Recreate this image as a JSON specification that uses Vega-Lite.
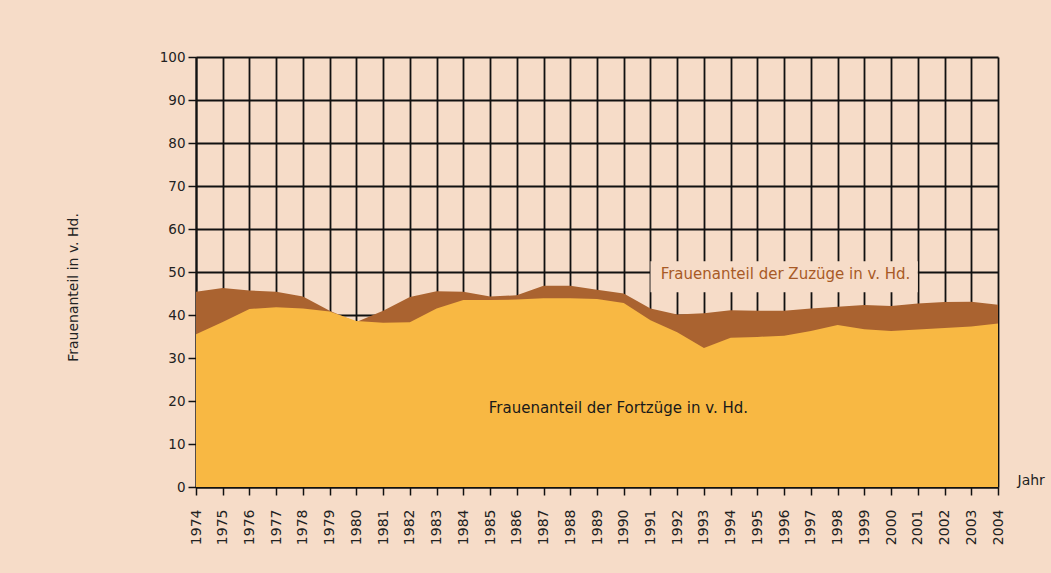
{
  "$schema": "https://vega.github.io/schema/vega-lite/v6.json",
  "width": 802,
  "height": 430,
  "autosize": {"type": "none"},
  "padding": {"left": 196, "top": 57, "right": 53, "bottom": 86},
  "background": "#f6dcc8",
  "config": {
    "view": {"stroke": null},
    "font": "DejaVu Sans",
    "axisX": {
      "format": "d",
      "labelAngle": -90,
      "labelAlign": "right",
      "labelBaseline": "middle",
      "labelFontSize": 14,
      "labelColor": "#222222",
      "labelPadding": 14,
      "labelOverlap": false,
      "labelFlush": false,
      "tickSize": 8,
      "tickColor": "#111111",
      "tickWidth": 1.5,
      "domainColor": "#111111",
      "domainWidth": 2,
      "grid": true,
      "gridColor": "#111111",
      "gridWidth": 1.8,
      "gridOpacity": 1,
      "titleX": 821,
      "titleY": -7,
      "titleAlign": "left",
      "titleBaseline": "middle",
      "titleFontWeight": "normal",
      "titleFontSize": 14,
      "titleColor": "#222222"
    },
    "axisY": {
      "labelFontSize": 13.5,
      "labelColor": "#222222",
      "labelPadding": 3,
      "labelFlush": false,
      "tickSize": 8,
      "tickColor": "#111111",
      "tickWidth": 1.5,
      "domainColor": "#111111",
      "domainWidth": 2,
      "grid": true,
      "gridColor": "#111111",
      "gridWidth": 1.8,
      "gridOpacity": 1,
      "titleX": -123,
      "titleY": 230,
      "titleAngle": -90,
      "titleAlign": "center",
      "titleBaseline": "middle",
      "titleFontWeight": "normal",
      "titleFontSize": 14,
      "titleColor": "#222222"
    }
  },
  "datasets": {
    "anteile": [
      {"year": 1974, "fortzuege": 35.5, "zuzuege": 45.4},
      {"year": 1975, "fortzuege": 38.4, "zuzuege": 46.3},
      {"year": 1976, "fortzuege": 41.4, "zuzuege": 45.7},
      {"year": 1977, "fortzuege": 41.8, "zuzuege": 45.4},
      {"year": 1978, "fortzuege": 41.5, "zuzuege": 44.3},
      {"year": 1979, "fortzuege": 40.8, "zuzuege": 41.0},
      {"year": 1980, "fortzuege": 38.6, "zuzuege": 38.4},
      {"year": 1981, "fortzuege": 38.2, "zuzuege": 41.0},
      {"year": 1982, "fortzuege": 38.3, "zuzuege": 44.2},
      {"year": 1983, "fortzuege": 41.5, "zuzuege": 45.5},
      {"year": 1984, "fortzuege": 43.5, "zuzuege": 45.4},
      {"year": 1985, "fortzuege": 43.5, "zuzuege": 44.3},
      {"year": 1986, "fortzuege": 43.6, "zuzuege": 44.6},
      {"year": 1987, "fortzuege": 43.9, "zuzuege": 46.8},
      {"year": 1988, "fortzuege": 43.9, "zuzuege": 46.8},
      {"year": 1989, "fortzuege": 43.7, "zuzuege": 45.9},
      {"year": 1990, "fortzuege": 42.8, "zuzuege": 45.0},
      {"year": 1991, "fortzuege": 38.8, "zuzuege": 41.5},
      {"year": 1992, "fortzuege": 36.0, "zuzuege": 40.1},
      {"year": 1993, "fortzuege": 32.3, "zuzuege": 40.4},
      {"year": 1994, "fortzuege": 34.7, "zuzuege": 41.1},
      {"year": 1995, "fortzuege": 34.9, "zuzuege": 41.0},
      {"year": 1996, "fortzuege": 35.2, "zuzuege": 41.0},
      {"year": 1997, "fortzuege": 36.3, "zuzuege": 41.5},
      {"year": 1998, "fortzuege": 37.7, "zuzuege": 41.9},
      {"year": 1999, "fortzuege": 36.7, "zuzuege": 42.3},
      {"year": 2000, "fortzuege": 36.3, "zuzuege": 42.1},
      {"year": 2001, "fortzuege": 36.6, "zuzuege": 42.7},
      {"year": 2002, "fortzuege": 37.0, "zuzuege": 43.0},
      {"year": 2003, "fortzuege": 37.3, "zuzuege": 43.1},
      {"year": 2004, "fortzuege": 38.0, "zuzuege": 42.4}
    ],
    "labels": [
      {"year": 1989.8, "value": 18.4, "text": "Frauenanteil der Fortzüge in v. Hd.", "series": "fort"},
      {"year": 1996.05, "value": 49.5, "text": "Frauenanteil der Zuzüge in v. Hd.", "series": "zu"}
    ],
    "labelbox": [
      {"year": 1991.0, "year2": 2001.0, "value": 45.3, "value2": 52.5}
    ]
  },
  "encoding": {
    "x": {
      "field": "year",
      "type": "quantitative",
      "scale": {"domain": [1974, 2004], "nice": false, "zero": false},
      "axis": {
        "values": [1974,1975,1976,1977,1978,1979,1980,1981,1982,1983,1984,1985,1986,1987,1988,1989,1990,1991,1992,1993,1994,1995,1996,1997,1998,1999,2000,2001,2002,2003,2004]
      },
      "title": "Jahr"
    }
  },
  "layer": [
    {
      "data": {"name": "anteile"},
      "mark": {"type": "area", "color": "#aa6330", "opacity": 1},
      "encoding": {
        "y": {
          "field": "zuzuege",
          "type": "quantitative",
          "scale": {"domain": [0, 100], "nice": false},
          "axis": {"values": [0,10,20,30,40,50,60,70,80,90,100]},
          "title": "Frauenanteil in v. Hd."
        }
      }
    },
    {
      "data": {"name": "anteile"},
      "mark": {"type": "area", "color": "#f8b843", "opacity": 1},
      "encoding": {
        "y": {"field": "fortzuege", "type": "quantitative", "title": "Frauenanteil in v. Hd."}
      }
    },
    {
      "data": {"name": "labelbox"},
      "mark": {"type": "rect", "color": "#f6dcc8", "opacity": 1},
      "encoding": {
        "x2": {"field": "year2"},
        "y": {"field": "value", "type": "quantitative", "title": "Frauenanteil in v. Hd."},
        "y2": {"field": "value2"}
      }
    },
    {
      "data": {"name": "labels"},
      "mark": {"type": "text", "fontSize": 15, "align": "center", "baseline": "middle"},
      "encoding": {
        "y": {"field": "value", "type": "quantitative", "title": "Frauenanteil in v. Hd."},
        "text": {"field": "text"},
        "color": {
          "field": "series",
          "type": "nominal",
          "scale": {"domain": ["fort", "zu"], "range": ["#1a1a1a", "#a85a26"]},
          "legend": null
        }
      }
    }
  ]
}
